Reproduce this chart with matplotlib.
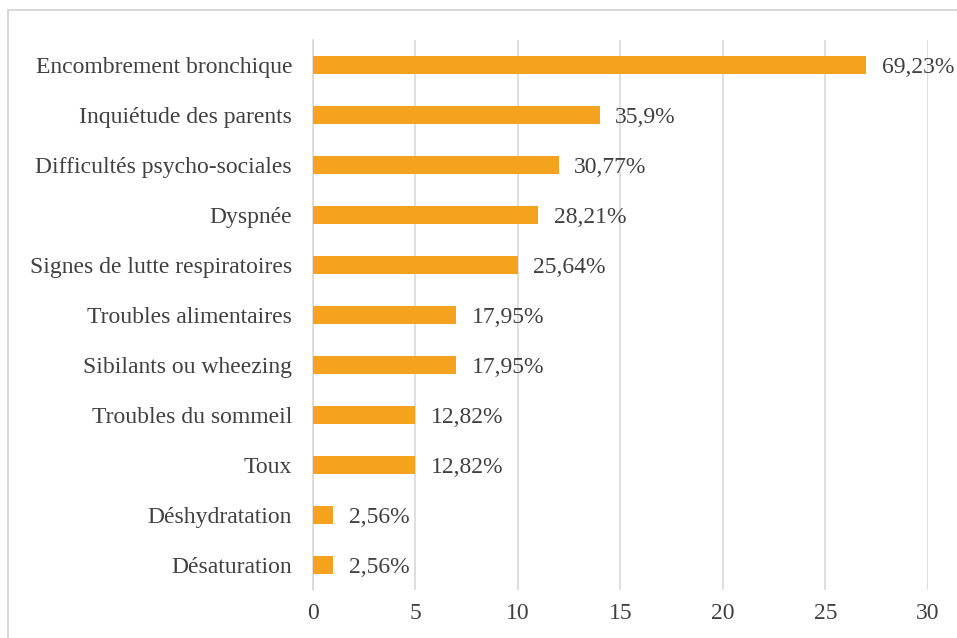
import matplotlib
matplotlib.use("Agg")
from matplotlib import pyplot as plt
from matplotlib.patches import Rectangle

# categories du haut vers le bas
categories = ["Encombrement bronchique", "Inquiétude des parents",
              "Difficultés psycho-sociales", "Dyspnée",
              "Signes de lutte respiratoires", "Troubles alimentaires",
              "Sibilants ou wheezing", "Troubles du sommeil", "Toux",
              "Déshydratation", "Désaturation"]
effectifs = [27, 14, 12, 11, 10, 7, 7, 5, 5, 1, 1]
pourcentages = ["69,23%", "35,9%", "30,77%", "28,21%", "25,64%", "17,95%",
                "17,95%", "12,82%", "12,82%", "2,56%", "2,56%"]
xticks = [0, 5, 10, 15, 20, 25, 30]

plt.rcParams['font.family'] = ['Liberation Serif', 'DejaVu Serif']
gris = '#404040'

fig = plt.figure(figsize=(9.57, 6.38), dpi=100)
ax = fig.add_axes([0.327, 0.0752, 0.6427, 0.8621])

pos = list(range(len(categories)))[::-1]
ax.barh(pos, effectifs, height=0.36, color='#F5A31F', zorder=3)
for p, v, t in zip(pos, effectifs, pourcentages):
    ax.text(v + 0.75, p, t, va='center_baseline', ha='left', fontsize=17, color=gris, zorder=4)

ax.set_xlim(0, 30)
ax.set_ylim(-0.5, len(categories) - 0.5)
ax.set_xticks(xticks)
ax.set_yticks(pos)
ax.set_yticklabels(categories)
ax.tick_params(axis='both', length=0, labelsize=17, colors=gris)
ax.tick_params(axis='y', pad=15)
ax.tick_params(axis='x', pad=9)
ax.grid(axis='x', color='#d9d9d9', linewidth=1.2, zorder=0)
for s in ['top', 'right', 'bottom']:
    ax.spines[s].set_visible(False)
ax.spines['left'].set_color('#d9d9d9')
ax.spines['left'].set_linewidth(1.2)

fig.patches.append(Rectangle((8 / 957, -0.05), 1.1, 1 - 10 / 638 + 0.05,
                             transform=fig.transFigure, fill=False,
                             edgecolor='#d9d9d9', linewidth=1.5))

plt.savefig('out.png', dpi=100)
